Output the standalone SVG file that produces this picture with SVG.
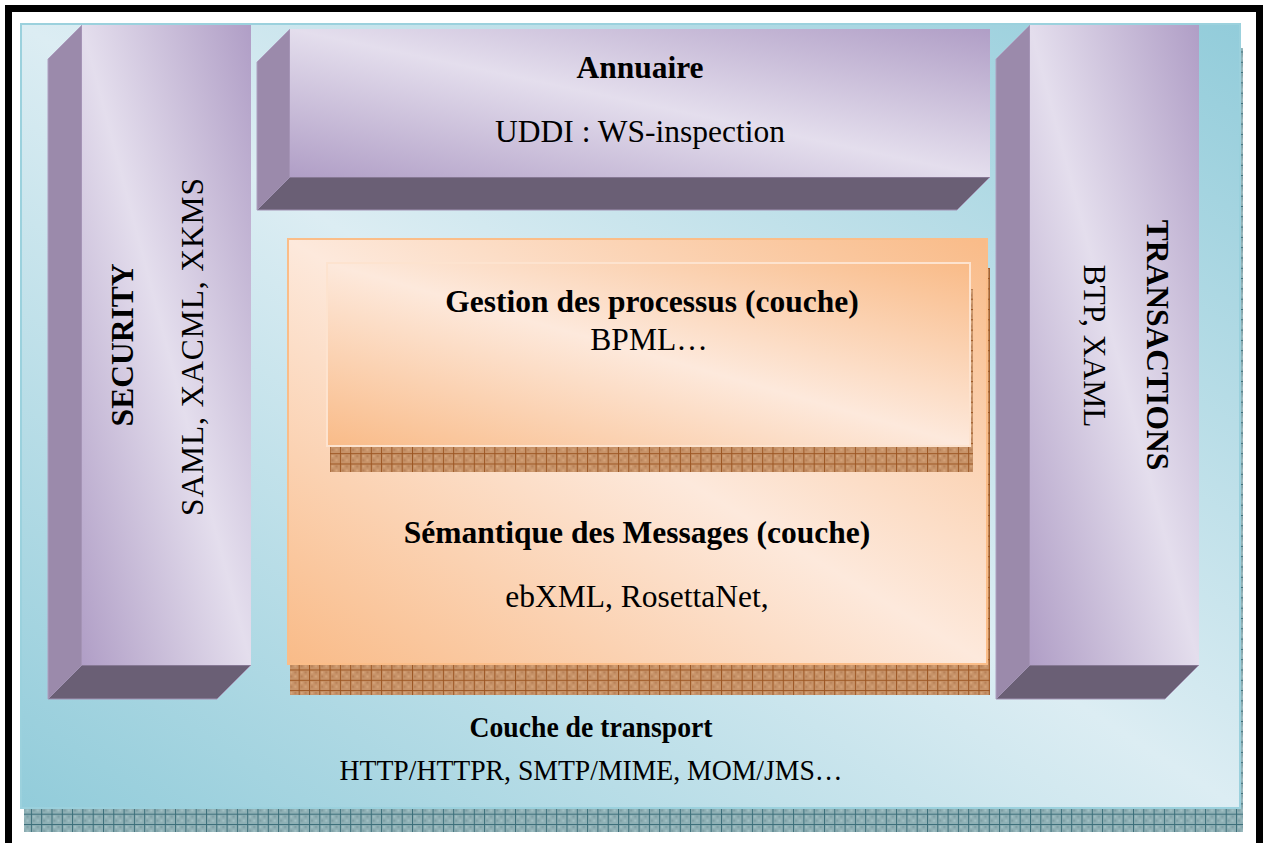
<svg xmlns="http://www.w3.org/2000/svg" width="1268" height="843" viewBox="0 0 1268 843">
<defs>
<style>
text{font-family:"Liberation Serif","Times New Roman",serif;fill:#000}
.b{font-weight:bold}
.t{font-size:31.5px}
.s{font-size:30px}
.side{fill:#9b8aab;stroke:#ae9fc0;stroke-width:1}
.bot{fill:#6a5f75;stroke:#a192b3;stroke-width:1}
.front{fill:url(#gPurple)}
</style>
<linearGradient id="gPurple" x1="0" y1="1" x2="1" y2="0">
<stop offset="0" stop-color="#b09ec6"/>
<stop offset="0.5" stop-color="#e4deed"/>
<stop offset="1" stop-color="#b09ec6"/>
</linearGradient>
<linearGradient id="gBlue" x1="0" y1="1" x2="1" y2="0">
<stop offset="0" stop-color="#92ccda"/>
<stop offset="0.5" stop-color="#dcedf3"/>
<stop offset="1" stop-color="#92ccda"/>
</linearGradient>
<linearGradient id="gOrange" x1="0" y1="1" x2="1" y2="0">
<stop offset="0" stop-color="#f9bb88"/>
<stop offset="0.5" stop-color="#fde9dc"/>
<stop offset="1" stop-color="#f9bb88"/>
</linearGradient>
<pattern id="pOr" width="10.3" height="10.3" patternUnits="userSpaceOnUse">
<rect width="10.3" height="10.3" fill="#c79369"/>
<rect x="2" y="2" width="2" height="2" fill="#d6a47a"/>
<rect x="6" y="2" width="2" height="2" fill="#b88158"/>
<rect x="2" y="6" width="2" height="2" fill="#b88158"/>
<rect x="6" y="6" width="2" height="2" fill="#d6a47a"/>
<rect width="10.3" height="1" fill="#9c5623"/>
<rect width="1" height="10.3" fill="#9c5623"/>
</pattern>
<pattern id="pBl" width="10.3" height="10.3" patternUnits="userSpaceOnUse">
<rect width="10.3" height="10.3" fill="#8fb0b5"/>
<rect x="2" y="2" width="2" height="2" fill="#a3c2c6"/>
<rect x="6" y="2" width="2" height="2" fill="#7c9ea4"/>
<rect x="2" y="6" width="2" height="2" fill="#7c9ea4"/>
<rect x="6" y="6" width="2" height="2" fill="#a3c2c6"/>
<rect width="10.3" height="1" fill="#3b6e79"/>
<rect width="1" height="10.3" fill="#3b6e79"/>
</pattern>
</defs>
<rect width="1268" height="843" fill="#ffffff"/>
<rect x="8.5" y="8.5" width="1251" height="850" fill="none" stroke="#000" stroke-width="7"/>

<g id="transport">
<rect x="24" y="48" width="1219" height="784" fill="url(#pBl)"/>
<rect x="21" y="24" width="1219" height="784" fill="url(#gBlue)" stroke="#9bd1dd" stroke-width="2"/>
<text class="b s" x="591" y="737" text-anchor="middle" textLength="243" lengthAdjust="spacingAndGlyphs">Couche de transport</text>
<text class="s" x="591" y="780" text-anchor="middle" textLength="503" lengthAdjust="spacingAndGlyphs">HTTP/HTTPR, SMTP/MIME, MOM/JMS…</text>
</g>

<g id="security">
<polygon class="side" points="82,25 82,665 48,699 48,59"/>
<polygon class="bot" points="82,665 251,665 217,699 48,699"/>
<rect class="front" x="82" y="25" width="169" height="640"/>
<text class="b t" transform="translate(133,345) rotate(-90)" text-anchor="middle">SECURITY</text>
<text class="t" transform="translate(203,347) rotate(-90)" text-anchor="middle" textLength="338" lengthAdjust="spacing">SAML, XACML, XKMS</text>
</g>

<g id="annuaire">
<polygon class="side" points="290,29 290,177 257,210 257,62"/>
<polygon class="bot" points="290,177 990,177 957,210 257,210"/>
<rect class="front" x="290" y="29" width="700" height="148"/>
<text class="b t" x="640" y="78" text-anchor="middle">Annuaire</text>
<text class="t" x="640" y="142" text-anchor="middle">UDDI : WS-inspection</text>
</g>

<g id="transactions">
<polygon class="side" points="1030,25 1030,665 996,699 996,59"/>
<polygon class="bot" points="1030,665 1199,665 1165,699 996,699"/>
<rect class="front" x="1030" y="25" width="169" height="640"/>
<text class="b t" transform="translate(1147,345) rotate(90)" text-anchor="middle">TRANSACTIONS</text>
<text class="t" transform="translate(1084,346) rotate(90)" text-anchor="middle">BTP, XAML</text>
</g>

<g id="semantique">
<rect x="290" y="268" width="700" height="427" fill="url(#pOr)"/>
<rect x="288" y="239" width="699" height="425" fill="url(#gOrange)" stroke="#fbbd88" stroke-width="2"/>
<text class="b t" x="637" y="543" text-anchor="middle">Sémantique des Messages (couche)</text>
<text class="t" x="637" y="607" text-anchor="middle">ebXML, RosettaNet,</text>
</g>

<g id="gestion">
<rect x="330" y="289" width="643" height="183" fill="url(#pOr)"/>
<rect x="327" y="263" width="643" height="183" fill="url(#gOrange)" stroke="#fde3cf" stroke-width="2"/>
<text class="b t" x="652" y="312" text-anchor="middle">Gestion des processus (couche)</text>
<text class="t" x="649" y="350" text-anchor="middle">BPML…</text>
</g>

<g id="connectors"></g>
</svg>
